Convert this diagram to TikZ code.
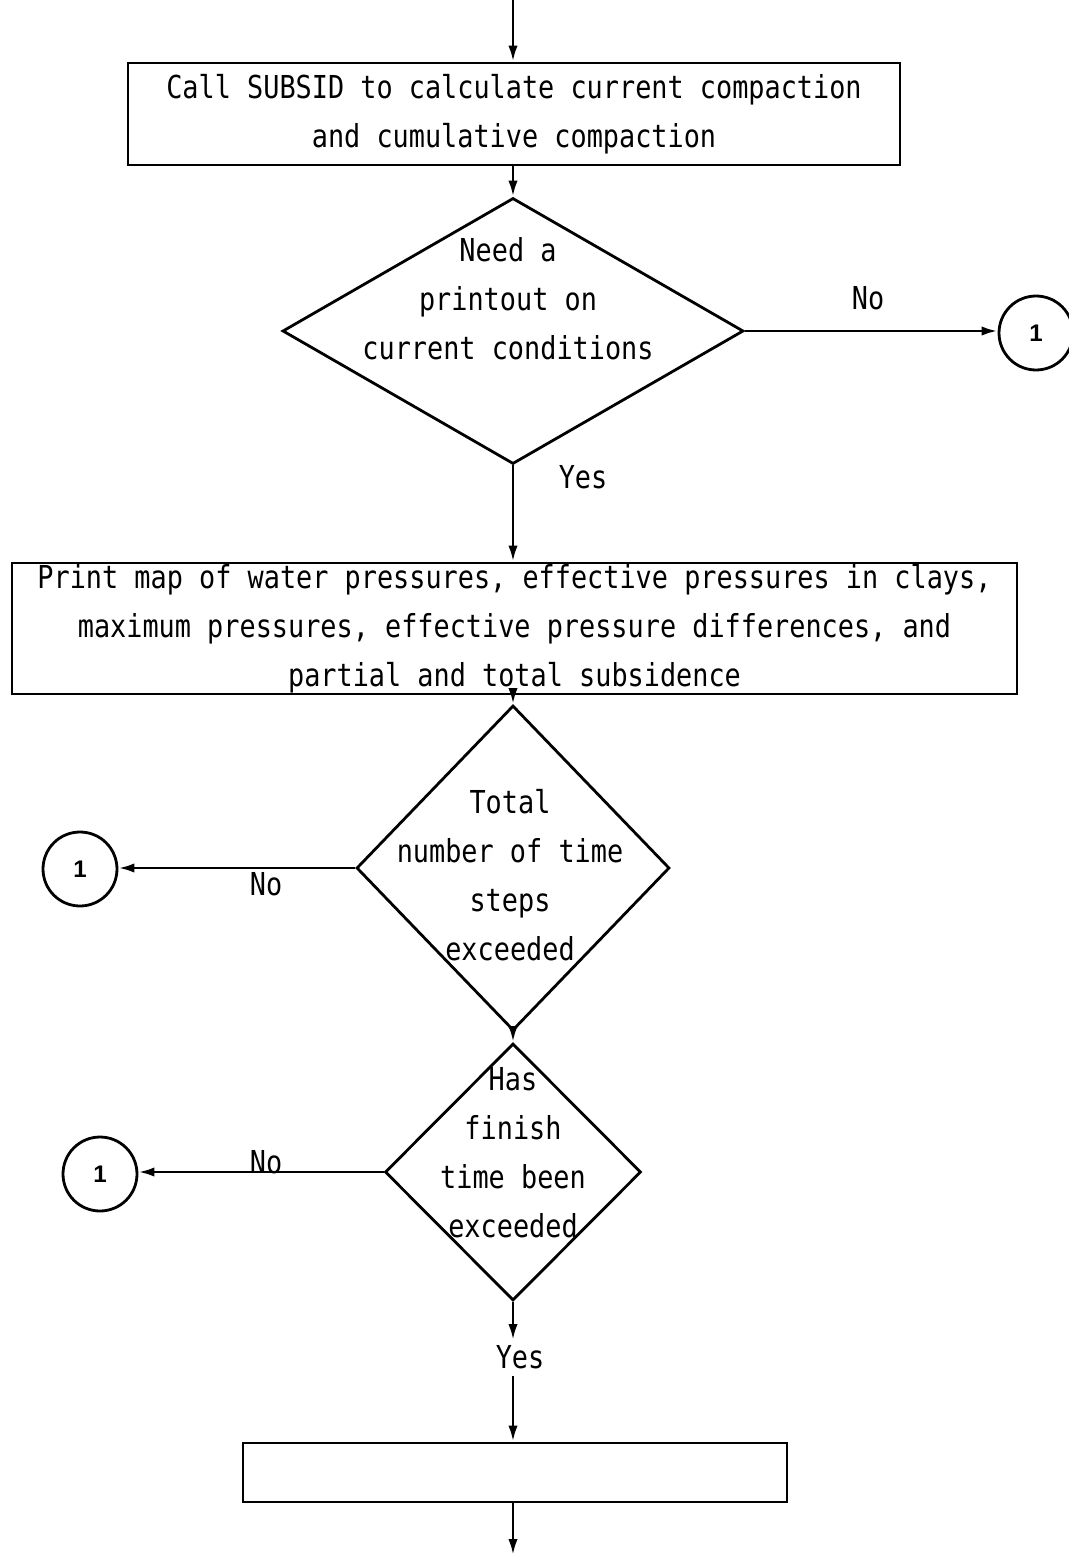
\documentclass[tikz,border=0pt]{standalone}
\usepackage{fontspec}
\setmonofont[FakeStretch=0.85]{DejaVu Sans Mono}
\newfontfamily\circfont{Liberation Sans}
\usetikzlibrary{shapes.geometric,arrows.meta}
\begin{document}
\begin{tikzpicture}[x=0.75pt,y=-0.75pt,
  line width=2.1pt,
  every node/.style={font=\ttfamily\fontsize{23.7pt}{36.75pt}\selectfont, inner sep=0pt},
  arr/.style={-{Latex[length=12pt,width=7pt]}},
  procbox/.style={draw, rectangle, align=center},
  decision/.style={draw, diamond},
  dtext/.style={align=center},
  conn/.style={draw, circle, minimum size=55.5pt, font=\circfont\bfseries\fontsize{18pt}{20pt}\selectfont},
  lbl/.style={}]
\useasboundingbox (0,0) rectangle (1069,1555);

\coordinate (top) at (513,0);
\node[procbox, minimum width=579pt, minimum height=76.5pt] (b1) at (514,114)
  {Call SUBSID to calculate current compaction\\and cumulative compaction};

\node[decision, minimum width=345.75pt, minimum height=199.5pt] (d1) at (513,331) {};
\node[dtext] (d1t) at (508,299) {Need a\\printout on\\current conditions};
\node[conn] (c1) at (1036,333) {1};
\node[lbl] (no1) at (868,298) {No};
\node[lbl] (yes1) at (583,477) {Yes};

\node[procbox, minimum width=753.75pt, minimum height=98.25pt] (b2) at (514.5,628.5)
  {Print map of water pressures, effective pressures in clays,\\maximum pressures, effective pressure differences, and\\partial and total subsidence};

\node[decision, minimum width=234.75pt, minimum height=243.75pt] (d2) at (513,868) {};
\node[dtext] (d2t) at (510,875) {Total\\number of time\\steps\\exceeded};
\node[conn] (c2) at (80,869) {1};
\node[lbl] (no2) at (266,884) {No};

\node[decision, minimum width=192pt, minimum height=192.75pt] (d3) at (513,1172) {};
\node[dtext] (d3t) at (513,1153) {Has\\finish\\time been\\exceeded};
\node[conn] (c3) at (100,1174) {1};
\node[lbl] (no3) at (266,1162) {No};

\coordinate (y3a) at (513,1340);
\node[lbl] (yes3) at (520,1357) {Yes};
\coordinate (y3b) at (513,1376);
\node[procbox, minimum width=408pt, minimum height=44.25pt] (b3) at (515,1472.5) {};
\coordinate (bot) at (513,1555);

\draw[arr] (top) -- (top |- b1.north);
\draw[arr] (b1.south -| d1.north) -- (d1.north);
\draw[arr] (d1.east) -- (d1.east -| c1.west);
\draw[arr] (d1.south) -- (d1.south |- b2.north);
\draw[arr] (b2.south -| d2.north) -- (d2.north);
\draw[arr] (d2.west) -- (d2.west -| c2.east);
\draw[arr] (d2.south) -- (d3.north);
\draw[arr] (d3.west) -- (d3.west -| c3.east);
\draw[arr] (d3.south) -- (y3a);
\draw[arr] (y3b) -- (y3b |- b3.north);
\draw[arr] (b3.south -| bot) -- (bot);
\end{tikzpicture}
\end{document}
